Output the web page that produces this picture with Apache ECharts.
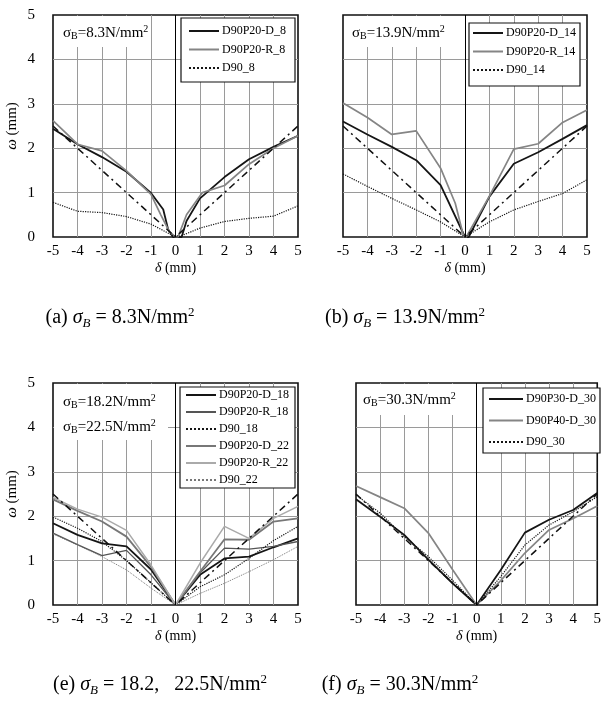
<!DOCTYPE html>
<html><head><meta charset="utf-8">
<script src="https://cdn.jsdelivr.net/npm/echarts@6/dist/echarts.min.js"></script>
<style>html,body{margin:0;padding:0;background:#fff}#c{width:604px;height:704px}</style>
</head><body><div id="c"></div>
<script>
// ---------- data ----------
const xTicks = [-5,-4,-3,-2,-1,0,1,2,3,4,5];
const refLine = [[-5,2.5],[0,0],[5,2.5]];

// (a) sigma_B = 8.3
const a_D = [[-5,2.44],[-4,2.09],[-3,1.8],[-2,1.47],[-1,0.99],[-0.5,0.62],[-0.3,0.17],[-0.1,0],[0.25,0],[0.45,0.36],[1,0.87],[2,1.35],[3,1.75],[4,2.03],[5,2.28]];
const a_R = [[-5,2.62],[-4,2.09],[-3,1.94],[-2,1.49],[-1,0.96],[-0.6,0.5],[-0.25,0.12],[0,0],[0.1,0],[0.45,0.5],[1.1,1.0],[2,1.16],[3,1.64],[4,2.0],[5,2.28]];
const a_N = [[-5,0.78],[-4,0.58],[-3,0.55],[-2,0.46],[-1,0.29],[-0.1,0.03],[0.2,0.02],[1,0.2],[2,0.35],[3,0.42],[4,0.47],[5,0.7]];

// (b) sigma_B = 13.9
const b_D = [[-5,2.6],[-4,2.31],[-3,2.03],[-2,1.73],[-1,1.17],[0,0],[0.15,0],[1,0.91],[2,1.65],[3,1.91],[4,2.21],[5,2.52]];
const b_R = [[-5,3.02],[-4,2.69],[-3,2.31],[-2,2.39],[-1,1.55],[-0.4,0.76],[-0.05,0],[0.05,0],[1,0.92],[2,1.98],[3,2.1],[4,2.58],[5,2.86]];
const b_N = [[-5,1.42],[-4,1.14],[-3,0.87],[-2,0.61],[-1,0.34],[0,0],[1,0.34],[2,0.61],[3,0.8],[4,0.98],[5,1.29]];

// (e) sigma_B = 18.2, 22.5
const e_D18 = [[-5,1.84],[-4,1.58],[-3,1.39],[-2,1.32],[-1,0.8],[0,0],[1,0.68],[2,1.05],[3,1.09],[4,1.3],[5,1.5]];
const e_R18 = [[-5,1.62],[-4,1.36],[-3,1.11],[-2,1.23],[-1,0.68],[0,0],[1,0.72],[2,1.28],[3,1.26],[4,1.32],[5,1.43]];
const e_N18 = [[-5,1.98],[-4,1.73],[-3,1.43],[-2,1.0],[-1,0.5],[0,0],[1,0.41],[2,0.68],[3,1.05],[4,1.45],[5,1.77]];
const e_D22 = [[-5,2.38],[-4,2.12],[-3,1.88],[-2,1.54],[-1,0.86],[0,0],[1,0.75],[2,1.48],[3,1.47],[4,1.88],[5,1.95]];
const e_R22 = [[-5,2.42],[-4,2.16],[-3,1.98],[-2,1.68],[-1,0.9],[0,0],[1,0.94],[2,1.77],[3,1.5],[4,1.95],[5,2.22]];
const e_N22 = [[-5,1.6],[-4,1.35],[-3,1.09],[-2,0.79],[-1,0.38],[0,0],[1,0.26],[2,0.49],[3,0.75],[4,1.02],[5,1.32]];

// (f) sigma_B = 30.3
const f_P30 = [[-5,2.38],[-4,1.99],[-3,1.58],[-2,1.02],[-1,0.49],[0,0],[1,0.79],[2,1.63],[3,1.92],[4,2.14],[5,2.52]];
const f_P40 = [[-5,2.68],[-4,2.43],[-3,2.18],[-2,1.62],[-1,0.8],[0,0],[1,0.55],[2,1.17],[3,1.69],[4,1.95],[5,2.23]];
const f_N = [[-5,2.48],[-4,2.07],[-3,1.54],[-2,1.09],[-1,0.56],[0,0],[1,0.64],[2,1.35],[3,1.8],[4,2.1],[5,2.44]];

// ---------- chart ----------
const FONT = '"Liberation Serif", serif';
const chart = echarts.init(document.getElementById('c'), null, {renderer:'canvas'});

const grids = [
  {left:53, top:15, width:245, height:222},
  {left:343, top:15, width:244, height:222},
  {left:53, top:383, width:245, height:222},
  {left:356, top:383, width:245, height:222}
];
const gridOpt = grids.map(g => Object.assign({show:true, borderColor:'#111', borderWidth:1.6, backgroundColor:'transparent'}, g));

const splitL = {show:true, showMinLine:false, showMaxLine:false, lineStyle:{color:'#9a9a9a', width:1}};
const xAxes = grids.map((g,i) => ({
  gridIndex:i, type:'value', min:-5, max:5, interval:1,
  axisLine:{show:false}, axisTick:{show:false},
  axisLabel:{fontFamily:FONT, fontSize:15, color:'#000', margin:7},
  splitLine:splitL,
  name:'{i|δ} (mm)', nameLocation:'middle', nameGap:24,
  nameTextStyle:{fontFamily:FONT, fontSize:14, color:'#000', rich:{i:{fontFamily:FONT, fontStyle:'italic', fontSize:14, color:'#000'}}}
}));
const yAxes = grids.map((g,i) => {
  const lab = (i===0 || i===2);
  return {
    gridIndex:i, type:'value', min:0, max:5, interval:1,
    axisLine:{show:false}, axisTick:{show:false},
    axisLabel:{show:lab, fontFamily:FONT, fontSize:15, color:'#000', margin:18},
    splitLine:splitL,
    name: lab ? '{i|ω} (mm)' : '', nameLocation:'middle', nameGap:33,
    nameTextStyle:{fontFamily:FONT, fontSize:15, color:'#000', rich:{i:{fontFamily:FONT, fontStyle:'italic', fontSize:15, color:'#000'}}}
  };
});

function ln(name, data, gi, color, width, type){
  return {name, type:'line', data, xAxisIndex:gi, yAxisIndex:gi, symbol:'none', showSymbol:false, silent:true,
    lineStyle:{color, width, type:type||'solid'}, itemStyle:{color}, animation:false, z:3};
}
function ref(gi){
  const s = ln('ref'+gi, refLine, gi, '#111', 1.5, [7,4,2,4]);
  s.markLine = {silent:true, symbol:'none', label:{show:false}, animation:false,
    lineStyle:{color:'#000', width:1, type:'solid'}, data:[{xAxis:0}]};
  return s;
}
const BLK = '#151515', GRY = '#858585';
const series = [
  ln('D90P20-D_8', a_D, 0, BLK, 1.8),
  ln('D90P20-R_8', a_R, 0, GRY, 1.7),
  ln('D90_8', a_N, 0, BLK, 1.2, 'dotted'),
  ref(0),
  ln('D90P20-D_14', b_D, 1, BLK, 1.8),
  ln('D90P20-R_14', b_R, 1, GRY, 1.7),
  ln('D90_14', b_N, 1, BLK, 1.2, 'dotted'),
  ref(1),
  ln('D90P20-D_18', e_D18, 2, BLK, 1.8),
  ln('D90P20-R_18', e_R18, 2, '#555', 1.3),
  ln('D90_18', e_N18, 2, BLK, 1.2, 'dotted'),
  ln('D90P20-D_22', e_D22, 2, '#777', 1.8),
  ln('D90P20-R_22', e_R22, 2, '#aaa', 1.5),
  ln('D90_22', e_N22, 2, '#777', 1.0, 'dotted'),
  ref(2),
  ln('D90P30-D_30', f_P30, 3, BLK, 1.8),
  ln('D90P40-D_30', f_P40, 3, GRY, 1.7),
  ln('D90_30', f_N, 3, BLK, 1.2, 'dotted'),
  ref(3)
];

function leg(names, left, top, gap, pad, iw){
  return {data:names, orient:'vertical', left, top, itemGap:gap, itemWidth:iw||30, itemHeight:12,
    padding:pad, backgroundColor:'#fff', borderColor:'#111', borderWidth:1.2, borderRadius:0,
    selectedMode:false, z:5, itemStyle:{opacity:0, borderWidth:0},
    textStyle:{fontFamily:FONT, fontSize:12, color:'#000', padding:[0,0,0,-2]}};
}
const legends = [
  leg(['D90P20-D_8','D90P20-R_8','D90_8'], 181, 18, 6.5, [7,9,8,7]),
  leg(['D90P20-D_14','D90P20-R_14','D90_14'], 469, 23, 6.5, [4,4,10,3]),
  leg(['D90P20-D_18','D90P20-R_18','D90_18','D90P20-D_22','D90P20-R_22','D90_22'], 180, 387, 5, [2,6,2,5]),
  leg(['D90P30-D_30','D90P40-D_30','D90_30'], 483, 388, 9.5, [5,4,5,5], 34)
];

const annRich = {
  m:{fontFamily:FONT, fontSize:15, color:'#000', lineHeight:17},
  sub:{fontFamily:FONT, fontSize:10, color:'#000', lineHeight:7, verticalAlign:'bottom'},
  sup:{fontFamily:FONT, fontSize:10, color:'#000', lineHeight:8, verticalAlign:'top'}
};
function ann(x, y, val){
  return {type:'text', x, y, z:10, silent:true,
    style:{text:'{m|σ}{sub|B}{m|='+val+'N/mm}{sup|2}', rich:annRich, align:'left', verticalAlign:'middle'}};
}
function box(x, y, w, h){
  return {type:'rect', shape:{x, y, width:w, height:h}, z:4, silent:true, style:{fill:'#fff'}};
}
const capRich = {
  m:{fontFamily:FONT, fontSize:20, color:'#000', lineHeight:24},
  i:{fontFamily:FONT, fontSize:20, fontStyle:'italic', color:'#000', lineHeight:24},
  sub:{fontFamily:FONT, fontSize:13, fontStyle:'italic', color:'#000', lineHeight:12, verticalAlign:'bottom'},
  sup:{fontFamily:FONT, fontSize:13, color:'#000', lineHeight:12, verticalAlign:'top'}
};
function cap(x, y, lab, val){
  return {type:'text', x, y, z:10, silent:true,
    style:{text:'{m|'+lab+' }{i|σ}{sub|B}{m| = '+val+'N/mm}{sup|2}', rich:capRich, align:'center', verticalAlign:'middle'}};
}

const graphic = [
  box(54, 16, 96, 31), ann(63, 33, '8.3'),
  box(344, 16, 106, 31), ann(352, 33, '13.9'),
  box(54, 384, 114, 56), ann(63, 402, '18.2'), ann(63, 427, '22.5'),
  box(357, 384, 106, 31), ann(363, 400, '30.3'),
  cap(120, 318, '(a)', '8.3'),
  cap(405, 318, '(b)', '13.9'),
  cap(160, 685, '(e)', '18.2,   22.5'),
  cap(400, 685, '(f)', '30.3')
];

chart.setOption({
  animation:false,
  backgroundColor:'#fff',
  grid:gridOpt, xAxis:xAxes, yAxis:yAxes, legend:legends, series, graphic
});
</script>
</body></html>
